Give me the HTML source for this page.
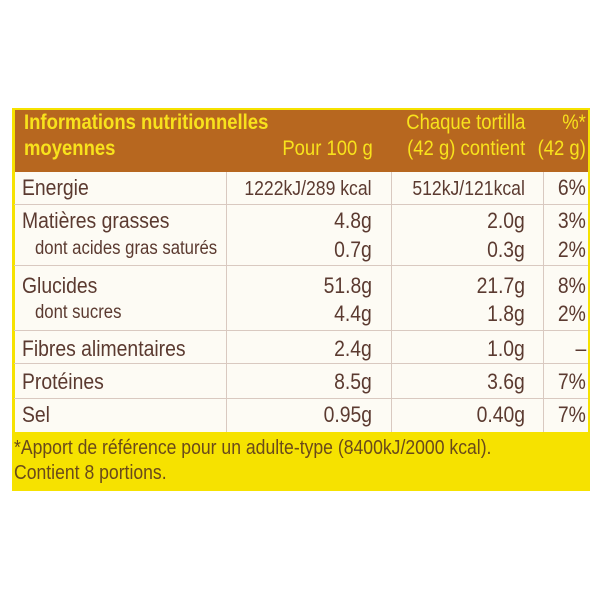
<!DOCTYPE html>
<html><head><meta charset="utf-8"><style>
body{margin:0;width:600px;height:600px;background:#fff;position:relative;overflow:hidden;font-family:"Liberation Sans",sans-serif;}
.a{position:absolute;white-space:nowrap;line-height:1;}
.l{transform:scaleX(0.88);transform-origin:left top;}
.r{transform:scaleX(0.88);transform-origin:right top;text-align:right;}
.t{color:#5b3a30;font-size:22px;}
.s{color:#5b3a30;font-size:19px;}
.h{color:#f8e21c;font-size:21px;}
.hl{position:absolute;height:1px;background:#d9c9c0;left:14px;width:574px;}
.vl{position:absolute;width:1px;background:#d9c9c0;top:172px;height:260px;}
</style></head><body>
<div style="position:absolute;left:12px;top:108px;width:578px;height:383px;background:#f6e200;"></div>
<div style="position:absolute;left:15px;top:110px;width:573px;height:62px;background:#b7671f;"></div>
<div style="position:absolute;left:15px;top:172px;width:573px;height:260px;background:#fdfbf4;"></div>
<div class="hl" style="top:204px"></div>
<div class="hl" style="top:265px"></div>
<div class="hl" style="top:330px"></div>
<div class="hl" style="top:363px"></div>
<div class="hl" style="top:398px"></div>
<div class="vl" style="left:226px"></div>
<div class="vl" style="left:391px"></div>
<div class="vl" style="left:543px"></div>

<div class="a l h" style="left:24px;top:112px;font-weight:bold;">Informations nutritionnelles</div>
<div class="a l h" style="left:24px;top:138px;font-weight:bold;">moyennes</div>
<div class="a r h" style="right:227px;top:138px;">Pour 100 g</div>
<div class="a r h" style="right:75px;top:112px;">Chaque tortilla</div>
<div class="a r h" style="right:75px;top:138px;">(42 g) contient</div>
<div class="a r h" style="right:14px;top:112px;">%*</div>
<div class="a r h" style="right:14px;top:138px;">(42 g)</div>

<div class="a l t" style="left:22px;top:177px;">Energie</div>
<div class="a l t" style="left:22px;top:210px;">Matières grasses</div>
<div class="a l s" style="left:35px;top:239px;">dont acides gras saturés</div>
<div class="a l t" style="left:22px;top:275px;">Glucides</div>
<div class="a l s" style="left:35px;top:303px;">dont sucres</div>
<div class="a l t" style="left:22px;top:338px;">Fibres alimentaires</div>
<div class="a l t" style="left:22px;top:371px;">Protéines</div>
<div class="a l t" style="left:22px;top:404px;">Sel</div>

<div class="a r s" style="right:228px;top:179px;font-size:20px;">1222kJ/289 kcal</div>
<div class="a r t" style="right:228px;top:210px;">4.8g</div>
<div class="a r t" style="right:228px;top:239px;">0.7g</div>
<div class="a r t" style="right:228px;top:275px;">51.8g</div>
<div class="a r t" style="right:228px;top:303px;">4.4g</div>
<div class="a r t" style="right:228px;top:338px;">2.4g</div>
<div class="a r t" style="right:228px;top:371px;">8.5g</div>
<div class="a r t" style="right:228px;top:404px;">0.95g</div>

<div class="a r s" style="right:75px;top:179px;font-size:20px;">512kJ/121kcal</div>
<div class="a r t" style="right:75px;top:210px;">2.0g</div>
<div class="a r t" style="right:75px;top:239px;">0.3g</div>
<div class="a r t" style="right:75px;top:275px;">21.7g</div>
<div class="a r t" style="right:75px;top:303px;">1.8g</div>
<div class="a r t" style="right:75px;top:338px;">1.0g</div>
<div class="a r t" style="right:75px;top:371px;">3.6g</div>
<div class="a r t" style="right:75px;top:404px;">0.40g</div>

<div class="a r t" style="right:14px;top:177px;">6%</div>
<div class="a r t" style="right:14px;top:210px;">3%</div>
<div class="a r t" style="right:14px;top:239px;">2%</div>
<div class="a r t" style="right:14px;top:275px;">8%</div>
<div class="a r t" style="right:14px;top:303px;">2%</div>
<div class="a r t" style="right:14px;top:338px;">–</div>
<div class="a r t" style="right:14px;top:371px;">7%</div>
<div class="a r t" style="right:14px;top:404px;">7%</div>

<div class="a l" style="left:14px;top:438px;font-size:20px;color:#6a4a1a;">*Apport de référence pour un adulte-type (8400kJ/2000 kcal).</div>
<div class="a l" style="left:14px;top:463px;font-size:20px;color:#6a4a1a;">Contient 8 portions.</div>
</body></html>
